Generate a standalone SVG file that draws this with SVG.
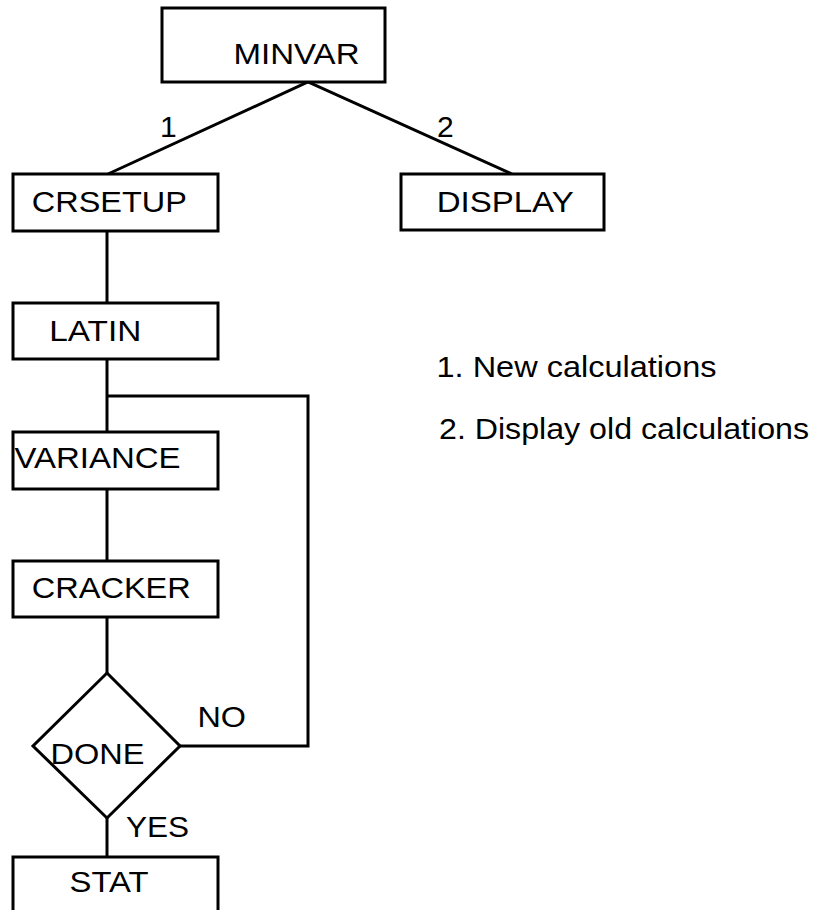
<svg xmlns="http://www.w3.org/2000/svg" width="815" height="910" viewBox="0 0 815 910">
  <style>
    .box { fill: #ffffff; stroke: #000000; stroke-width: 3; }
    .wire { fill: none; stroke: #000000; stroke-width: 3; stroke-linejoin: miter; }
    text { font-family: "Liberation Sans", Arial, sans-serif; font-size: 30px; fill: #000000; }
  </style>
  <rect width="815" height="910" fill="#ffffff"/>

  <!-- connectors -->
  <g id="connectors">
    <polyline class="wire" points="108,174 308,82 512,174"/>
    <line class="wire" x1="107" y1="231" x2="107" y2="303"/>
    <line class="wire" x1="107" y1="359" x2="107" y2="432"/>
    <polyline class="wire" points="107,396 308,396 308,746 180,746"/>
    <line class="wire" x1="107" y1="489" x2="107" y2="561"/>
    <line class="wire" x1="107" y1="617" x2="107" y2="673"/>
    <line class="wire" x1="107" y1="818" x2="107" y2="857"/>
    <text x="160" y="137">1</text>
    <text x="437" y="137">2</text>
    <text x="197.5" y="727" textLength="48.5" lengthAdjust="spacingAndGlyphs">NO</text>
    <text x="126" y="837" textLength="63" lengthAdjust="spacingAndGlyphs">YES</text>
  </g>

  <g id="minvar">
    <rect class="box" x="162" y="8" width="223" height="74"/>
    <text x="233.5" y="63.5" textLength="126" lengthAdjust="spacingAndGlyphs">MINVAR</text>
  </g>

  <g id="crsetup">
    <rect class="box" x="13" y="174" width="205" height="57"/>
    <text x="31.8" y="211.7" textLength="155" lengthAdjust="spacingAndGlyphs">CRSETUP</text>
  </g>

  <g id="display">
    <rect class="box" x="401" y="174" width="203" height="56"/>
    <text x="436.7" y="211.7" textLength="137" lengthAdjust="spacingAndGlyphs">DISPLAY</text>
  </g>

  <g id="latin">
    <rect class="box" x="13" y="303" width="205" height="56"/>
    <text x="49.3" y="340.7" textLength="92" lengthAdjust="spacingAndGlyphs">LATIN</text>
  </g>

  <g id="variance">
    <rect class="box" x="13" y="432" width="205" height="57"/>
    <text x="14.5" y="468.3" textLength="166" lengthAdjust="spacingAndGlyphs">VARIANCE</text>
  </g>

  <g id="cracker">
    <rect class="box" x="13" y="561" width="205" height="56"/>
    <text x="31.8" y="598.3" textLength="159" lengthAdjust="spacingAndGlyphs">CRACKER</text>
  </g>

  <g id="done">
    <polygon class="box" points="107,673 180,746 107,818 33,746"/>
    <text x="50.5" y="764" textLength="94" lengthAdjust="spacingAndGlyphs">DONE</text>
  </g>

  <g id="stat">
    <rect class="box" x="13" y="857" width="205" height="70"/>
    <text x="69.5" y="891.7" textLength="79" lengthAdjust="spacingAndGlyphs">STAT</text>
  </g>

  <g id="legend">
    <text x="436.5" y="376.7" textLength="280" lengthAdjust="spacingAndGlyphs">1. New calculations</text>
    <text x="439" y="439" textLength="370" lengthAdjust="spacingAndGlyphs">2. Display old calculations</text>
  </g>
</svg>
